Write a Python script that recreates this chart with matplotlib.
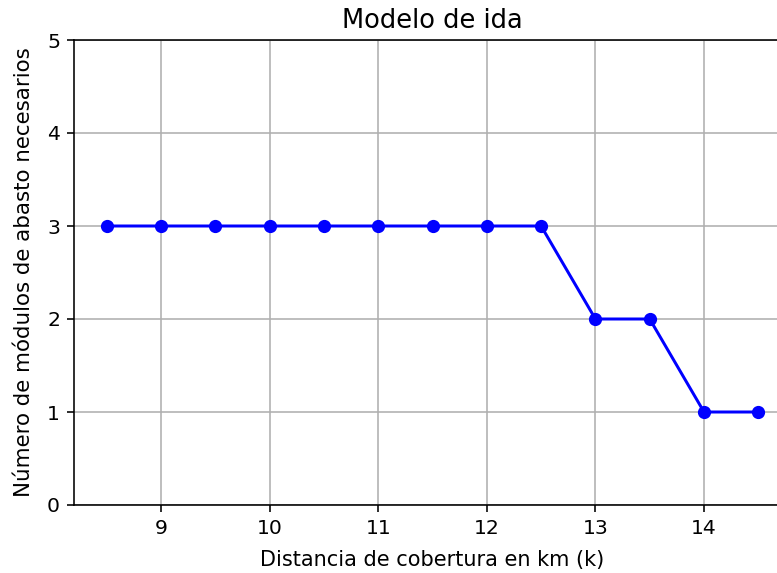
import matplotlib
matplotlib.use('Agg')
import matplotlib.pyplot as plt

# distancia de cobertura (km) y modulos necesarios
distancias = [8.5, 9, 9.5, 10, 10.5, 11, 11.5, 12, 12.5, 13, 13.5, 14, 14.5]
modulos = [3, 3, 3, 3, 3, 3, 3, 3, 3, 2, 2, 1, 1]

plt.rcParams['font.size'] = 10.2

fig = plt.figure(figsize=(777 / 144, 573 / 144), dpi=144)
ax = fig.add_axes([74.1 / 777, 68 / 573, 716.8 / 777, 465 / 573])

ax.plot(distancias, modulos, 'b-o', markersize=5.6)
ax.set_xlim(8.2, 14.8)
ax.set_ylim(0, 5)
ax.set_yticks([0, 1, 2, 3, 4, 5])
ax.grid(True)

ax.set_title("Modelo de ida", fontsize=12.9)
ax.set_xlabel("Distancia de cobertura en km (k)", fontsize=10.45, labelpad=6)
ax.set_ylabel("Número de módulos de abasto necesarios", fontsize=10.7, labelpad=6.5)

fig.savefig("out.png", dpi=144)
